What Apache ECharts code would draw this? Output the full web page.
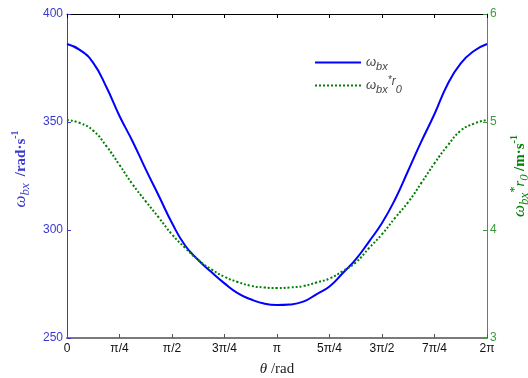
<!DOCTYPE html>
<html>
<head>
<meta charset="utf-8">
<script src="https://cdn.jsdelivr.net/npm/echarts@6/dist/echarts.min.js"></script>
<style>html,body{margin:0;padding:0;background:#fff}#c{width:528px;height:378px}</style>
</head>
<body>
<div id="c"></div>
<script>
// theta as fraction of pi (steps of pi/16)
var thetaFrac = [0, 0.0625, 0.125, 0.1875, 0.25, 0.3125, 0.375, 0.4375, 0.5, 0.5625, 0.625, 0.6875, 0.75, 0.8125, 0.875, 0.9375, 1,
  1.0625, 1.125, 1.1875, 1.25, 1.3125, 1.375, 1.4375, 1.5, 1.5625, 1.625, 1.6875, 1.75, 1.8125, 1.875, 1.9375, 2];
var omegaBx = [386.11, 383.3, 377.4, 366.2, 352.78, 341.0, 328.06, 315.74, 303.24, 292.82, 286.11, 280.51, 275.28, 270.74, 267.92, 265.97, 265.28,
  265.51, 266.81, 270.23, 273.84, 279.95, 286.39, 294.54, 303.24, 314.21, 327.55, 341.0, 353.70, 367.5, 377.13, 382.87, 386.11];
var omegaBxR0 = [5.019, 4.990, 4.920, 4.777, 4.602, 4.422, 4.266, 4.114, 3.959, 3.835, 3.722, 3.636, 3.567, 3.519, 3.484, 3.468, 3.463,
  3.468, 3.481, 3.514, 3.551, 3.619, 3.700, 3.831, 3.961, 4.113, 4.259, 4.436, 4.618, 4.782, 4.920, 4.985, 5.019];
var xTickLabels = ['0', 'π/4', 'π/2', '3π/4', 'π', '5π/4', '3π/2', '7π/4', '2π'];
var leftTicks = [250, 300, 350, 400];
var rightTicks = [3, 4, 5, 6];

var BLUE = '#0000ff', BLUEAX = '#3a3ad0', GREEN = '#007f00', GREENAX = '#3f9a3f';
var chart = echarts.init(document.getElementById('c'));
var sansFont = 'Liberation Sans';
chart.setOption({
  animation: false,
  grid: {left: 67, right: 41, top: 14, bottom: 40, containLabel: false, outerBoundsMode: 'none'},
  legend: {
    orient: 'vertical', left: 309, top: 51, itemWidth: 46, itemHeight: 14, itemGap: 3,
    itemStyle: {opacity: 0},
    formatter: function (n) {
      return n === 'a' ? '{w|ω}{s|bx}' : '{w|ω}{s|bx}{p|*}{s2|r}{s|0}';
    },
    textStyle: {
      rich: {
        w: {fontFamily: sansFont, fontStyle: 'italic', fontSize: 13, color: '#444', lineHeight: 20, verticalAlign: 'middle'},
        s: {fontFamily: sansFont, fontStyle: 'italic', fontSize: 11, color: '#444', lineHeight: 20, verticalAlign: 'bottom'},
        p: {fontFamily: sansFont, fontStyle: 'italic', fontSize: 10, color: '#444', lineHeight: 20, verticalAlign: 'top'},
        s2: {fontFamily: sansFont, fontStyle: 'italic', fontSize: 12, color: '#444', lineHeight: 20, verticalAlign: 'top'}
      }
    },
    data: ['a', 'b']
  },
  xAxis: [{
    type: 'value', min: 0, max: 2, interval: 0.25, position: 'bottom',
    axisLine: {show: true, onZero: false, lineStyle: {color: '#7a7a7a', width: 2}},
    axisTick: {show: true, inside: true, length: 4, lineStyle: {color: '#555'}},
    splitLine: {show: false},
    axisLabel: {color: '#111', fontFamily: sansFont, fontSize: 12, margin: 5,
      formatter: function (v) { return xTickLabels[Math.round(v / 0.25)]; }},
    name: '{t|θ} /rad', nameLocation: 'middle', nameGap: 24,
    nameTextStyle: {fontFamily: 'Liberation Serif', fontSize: 15, color: '#222',
      rich: {t: {fontFamily: 'Liberation Serif', fontStyle: 'italic', fontSize: 15, color: '#222'}}}
  }, {
    type: 'value', min: 0, max: 2, interval: 0.25, position: 'top',
    axisLine: {show: true, onZero: false, lineStyle: {color: '#000', width: 1}},
    axisTick: {show: true, inside: true, length: 4, lineStyle: {color: '#000'}},
    axisLabel: {show: false}, splitLine: {show: false}
  }],
  yAxis: [{
    type: 'value', min: leftTicks[0], max: leftTicks[leftTicks.length - 1], interval: 50, position: 'left',
    axisLine: {show: true, onZero: false, lineStyle: {color: BLUEAX, width: 1}},
    axisTick: {show: true, inside: true, length: 4, lineStyle: {color: BLUEAX}},
    splitLine: {show: false},
    axisLabel: {color: BLUEAX, fontFamily: sansFont, fontSize: 12, margin: 4},
    name: '{w|ω}{s|bx} {u| /rad·s}{e|-1}', nameLocation: 'middle', nameRotate: 90, nameGap: 35,
    nameTextStyle: {
      padding: [0, 0, 0, 14],
      rich: {
        w: {fontFamily: 'Liberation Serif', fontStyle: 'italic', fontSize: 17, color: BLUEAX, lineHeight: 22, verticalAlign: 'middle'},
        s: {fontFamily: 'Liberation Serif', fontStyle: 'italic', fontSize: 13, color: BLUEAX, lineHeight: 22, verticalAlign: 'bottom'},
        u: {fontFamily: 'Liberation Serif', fontWeight: 'bold', fontSize: 15, color: BLUEAX, lineHeight: 22, verticalAlign: 'middle'},
        e: {fontFamily: 'Liberation Serif', fontWeight: 'bold', fontSize: 10, color: BLUEAX, lineHeight: 22, verticalAlign: 'top'}
      }
    }
  }, {
    type: 'value', min: rightTicks[0], max: rightTicks[rightTicks.length - 1], interval: 1, position: 'right',
    axisLine: {show: true, onZero: false, lineStyle: {color: GREENAX, width: 1}},
    axisTick: {show: true, inside: true, length: 4, lineStyle: {color: GREENAX}},
    splitLine: {show: false},
    axisLabel: {color: GREENAX, fontFamily: sansFont, fontSize: 12, margin: 3},
    name: '{w|ω}{s|bx}{p|*}{r|r}{s|0} {u|/m·s}{e|-1}', nameLocation: 'middle', nameRotate: 90, nameGap: 22,
    nameTextStyle: {
      rich: {
        w: {fontFamily: 'Liberation Serif', fontStyle: 'italic', fontSize: 17, color: GREEN, lineHeight: 22, verticalAlign: 'middle'},
        s: {fontFamily: 'Liberation Serif', fontStyle: 'italic', fontSize: 13, color: GREEN, lineHeight: 22, verticalAlign: 'bottom'},
        p: {fontFamily: 'Liberation Serif', fontSize: 12, color: GREEN, lineHeight: 22, verticalAlign: 'top'},
        r: {fontFamily: 'Liberation Serif', fontStyle: 'italic', fontSize: 15, color: GREEN, lineHeight: 22, verticalAlign: 'middle'},
        u: {fontFamily: 'Liberation Serif', fontWeight: 'bold', fontSize: 15, color: GREEN, lineHeight: 22, verticalAlign: 'middle'},
        e: {fontFamily: 'Liberation Serif', fontWeight: 'bold', fontSize: 10, color: GREEN, lineHeight: 22, verticalAlign: 'top'}
      }
    }
  }],
  series: [{
    name: 'a', type: 'line', xAxisIndex: 0, yAxisIndex: 0, smooth: 0.5, symbol: 'none',
    lineStyle: {color: BLUE, width: 2}, itemStyle: {color: BLUE},
    data: thetaFrac.map(function (t, i) { return [t, omegaBx[i]]; })
  }, {
    name: 'b', type: 'line', xAxisIndex: 0, yAxisIndex: 1, smooth: 0.5, symbol: 'none',
    lineStyle: {color: GREEN, width: 2, type: [2, 2]}, itemStyle: {color: GREEN},
    data: thetaFrac.map(function (t, i) { return [t, omegaBxR0[i]]; })
  }]
});
</script>
</body>
</html>
